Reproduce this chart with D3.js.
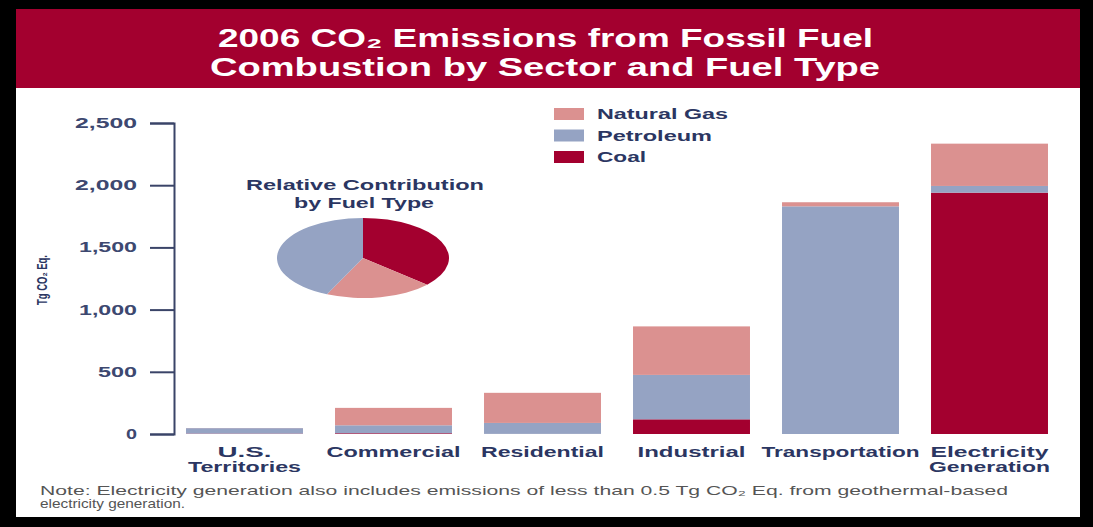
<!DOCTYPE html>
<html>
<head>
<meta charset="utf-8">
<script src="https://cdn.jsdelivr.net/npm/d3@7"></script>
<style>
  html, body { margin: 0; padding: 0; background: #000; }
  svg { display: block; }
</style>
</head>
<body>
<svg id="chart" width="1093" height="527"></svg>
<script>
// ---- data ----
const categories = ["U.S. Territories", "Commercial", "Residential", "Industrial", "Transportation", "Electricity Generation"];
const categoryLines = [["U.S.", "Territories"], ["Commercial"], ["Residential"], ["Industrial"], ["Transportation"], ["Electricity", "Generation"]];
const fuelKeys = ["Coal", "Petroleum", "Natural Gas"];
const coal = [3, 6, 1, 118, 0, 1940];
const petroleum = [44, 64, 88, 357, 1830, 54];
const naturalGas = [1, 140, 242, 390, 33, 340];
const yTicks = [0, 500, 1000, 1500, 2000, 2500];
const legendOrder = ["Natural Gas", "Petroleum", "Coal"];
const pieOrder = ["Coal", "Natural Gas", "Petroleum"];

const colors = { "Coal": "#a3002f", "Petroleum": "#95a3c3", "Natural Gas": "#db9190" };
const navy = "#2b3662";

const rows = categories.map((c, i) => ({
  category: c, "Coal": coal[i], "Petroleum": petroleum[i], "Natural Gas": naturalGas[i]
}));

const svg = d3.select("#chart");

function fit(sel, w) {
  return sel.attr("textLength", w).attr("lengthAdjust", "spacingAndGlyphs");
}

// frame
svg.append("rect").attr("x", 0).attr("y", 0).attr("width", 1093).attr("height", 527).attr("fill", "#000");
svg.append("rect").attr("x", 16).attr("y", 9).attr("width", 1064).attr("height", 508).attr("fill", "#fff");
svg.append("rect").attr("x", 16).attr("y", 9).attr("width", 1064).attr("height", 79).attr("fill", "#a3002f");

// title
const title = svg.append("g").attr("font-family", "'Liberation Sans', Arial, sans-serif")
  .attr("font-weight", "bold").attr("fill", "#fff").attr("font-size", 26).attr("text-anchor", "start");
fit(title.append("text").attr("x", 218).attr("y", 47).text("2006 CO₂ Emissions from Fossil Fuel"), 655);
fit(title.append("text").attr("x", 210).attr("y", 76).text("Combustion by Sector and Fuel Type"), 670);

// scales
const x = d3.scaleBand().domain(categories).range([170, 1064]).paddingInner(0.215).paddingOuter(0.1075);
const y = d3.scaleLinear().domain([0, 2500]).range([434, 123]);

// axis
const yAxis = d3.axisLeft(y).tickValues(yTicks).tickFormat(d3.format(",")).tickSize(24).tickPadding(13);
const ag = svg.append("g").attr("transform", "translate(174,0)").call(yAxis);
ag.select(".domain").attr("stroke", "#3a4468").attr("stroke-width", 2);
ag.selectAll(".tick line").attr("stroke", "#3a4468").attr("stroke-width", 2);
const tickW = { 0: 11, 500: 39, 1000: 58, 1500: 58, 2000: 62, 2500: 62 };
ag.selectAll(".tick text").attr("fill", "#3d4870").attr("font-size", 14).attr("font-weight", "bold")
  .attr("font-family", "'Liberation Sans', Arial, sans-serif")
  .each(function(d) { fit(d3.select(this), tickW[d]); });

// y title
fit(svg.append("text").attr("transform", "translate(47,280) rotate(-90)").attr("text-anchor", "middle")
  .attr("font-family", "'Liberation Sans', Arial, sans-serif").attr("font-weight", "bold")
  .attr("font-size", 14).attr("fill", navy).text("Tg CO₂ Eq."), 50);

// bars
const stacked = d3.stack().keys(fuelKeys)(rows);
svg.append("g").selectAll("g").data(stacked).join("g")
  .attr("fill", d => colors[d.key])
  .selectAll("rect").data(d => d).join("rect")
  .attr("x", d => x(d.data.category))
  .attr("width", x.bandwidth())
  .attr("y", d => y(d[1]))
  .attr("height", d => Math.max(0, y(d[0]) - y(d[1])));

// category labels
const labW = { "U.S.": 54, "Territories": 113, "Commercial": 134, "Residential": 123, "Industrial": 108,
  "Transportation": 158, "Electricity": 118, "Generation": 121 };
const lg = svg.append("g").attr("font-family", "'Liberation Sans', Arial, sans-serif")
  .attr("font-weight", "bold").attr("font-size", 15).attr("fill", navy).attr("text-anchor", "middle");
categories.forEach((c, i) => {
  categoryLines[i].forEach((line, j) => {
    fit(lg.append("text").attr("x", x(c) + x.bandwidth() / 2).attr("y", 457 + j * 15).text(line), labW[line]);
  });
});

// legend
const legW = { "Natural Gas": 131, "Petroleum": 115, "Coal": 49 };
const leg = svg.append("g").attr("font-family", "'Liberation Sans', Arial, sans-serif")
  .attr("font-weight", "bold").attr("font-size", 14).attr("fill", navy);
legendOrder.forEach((k, i) => {
  const cy = 114 + i * 21.5;
  leg.append("rect").attr("x", 554).attr("y", cy - 6).attr("width", 30).attr("height", 12).attr("fill", colors[k]);
  fit(leg.append("text").attr("x", 597).attr("y", cy + 5).text(k), legW[k]);
});

// pie
const totals = { "Coal": d3.sum(coal), "Petroleum": d3.sum(petroleum), "Natural Gas": d3.sum(naturalGas) };
const pieData = d3.pie().sort(null).value(k => totals[k])(pieOrder);
const rx = 86, ry = 40;
const arc = d3.arc().innerRadius(0).outerRadius(rx);
svg.append("g").attr("transform", `translate(363,258) scale(1,${ry / rx})`)
  .selectAll("path").data(pieData).join("path")
  .attr("d", arc).attr("fill", d => colors[d.data]);

const pt = svg.append("g").attr("font-family", "'Liberation Sans', Arial, sans-serif")
  .attr("font-weight", "bold").attr("font-size", 14).attr("fill", navy).attr("text-anchor", "middle");
fit(pt.append("text").attr("x", 365).attr("y", 190).text("Relative Contribution"), 238);
fit(pt.append("text").attr("x", 364).attr("y", 208).text("by Fuel Type"), 140);

// note
const nt = svg.append("g").attr("font-family", "'Liberation Sans', Arial, sans-serif")
  .attr("font-size", 13).attr("fill", "#555");
fit(nt.append("text").attr("x", 40).attr("y", 495).text("Note: Electricity generation also includes emissions of less than 0.5 Tg CO₂ Eq. from geothermal-based"), 968);
fit(nt.append("text").attr("x", 40).attr("y", 508).text("electricity generation."), 145);
</script>
</body>
</html>
